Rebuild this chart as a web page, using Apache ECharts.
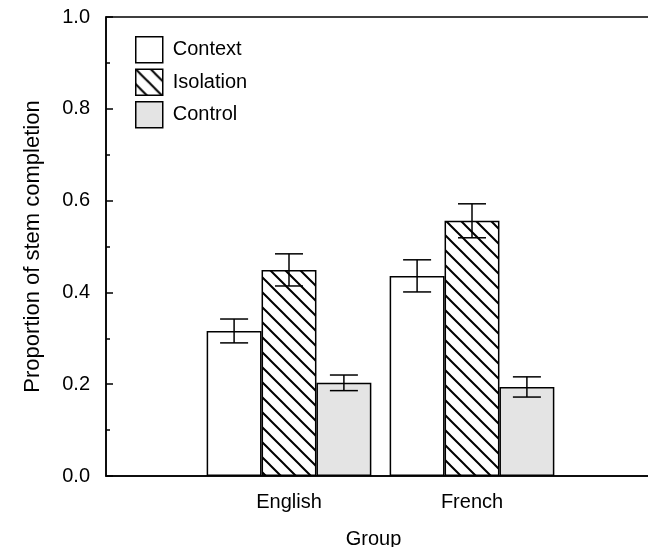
<!DOCTYPE html>
<html>
<head>
<meta charset="utf-8">
<script src="https://cdn.jsdelivr.net/npm/echarts@6/dist/echarts.min.js"></script>
<style>
  html, body { margin: 0; padding: 0; background: #fff; }
  #chart { width: 648px; height: 547px; }
</style>
</head>
<body>
<div id="chart"></div>
<script>
// Datos
const groups = ['English', 'French'];
const seriesNames = ['Context', 'Isolation', 'Control'];
const contextVals = [0.316, 0.436];
const isolationVals = [0.449, 0.556];
const controlVals = [0.203, 0.194];
const contextErr = [0.026, 0.035];
const isolationErr = [0.035, 0.037];
const controlErr = [0.017, 0.022];
const yTicks = [0, 0.2, 0.4, 0.6, 0.8, 1.0];

const values = [contextVals, isolationVals, controlVals];
const errors = [contextErr, isolationErr, controlErr];
const font = 'Liberation Sans, Arial, sans-serif';

// patrón rayado "\" para Isolation
function hatch() {
  const s = 15;
  const c = document.createElement('canvas');
  c.width = s; c.height = s;
  const ctx = c.getContext('2d');
  ctx.fillStyle = '#fff';
  ctx.fillRect(0, 0, s, s);
  ctx.strokeStyle = '#000';
  ctx.lineWidth = 2;
  ctx.beginPath();
  ctx.moveTo(-2, -2); ctx.lineTo(s + 2, s + 2);
  ctx.moveTo(-2, s - 2); ctx.lineTo(2, s + 2);
  ctx.moveTo(s - 2, -2); ctx.lineTo(s + 2, 2);
  ctx.stroke();
  return c;
}

const fills = ['#ffffff', { image: hatch(), repeat: 'repeat' }, '#e4e4e4'];
const barFrac = 0.3;

const series = [];
seriesNames.forEach(function (name, k) {
  series.push({
    name: name,
    type: 'bar',
    barWidth: (barFrac * 100) + '%',
    barGap: '0%',
    itemStyle: { color: fills[k], borderColor: '#000', borderWidth: 1.5 },
    data: groups.map(function (g, i) { return [g, values[k][i]]; })
  });
});
seriesNames.forEach(function (name, k) {
  series.push({
    type: 'custom',
    silent: true,
    z: 5,
    renderItem: function (params, api) {
      const p = api.coord([api.value(0), api.value(1)]);
      const band = api.size([1, 0])[0];
      const x = p[0] + (k - 1) * band * barFrac;
      const hi = api.coord([api.value(0), api.value(1) + api.value(2)])[1];
      const lo = api.coord([api.value(0), api.value(1) - api.value(2)])[1];
      const w = 14;
      const st = { stroke: '#000', lineWidth: 1.5 };
      return {
        type: 'group',
        children: [
          { type: 'line', shape: { x1: x, y1: hi, x2: x, y2: lo }, style: st },
          { type: 'line', shape: { x1: x - w, y1: hi, x2: x + w, y2: hi }, style: st },
          { type: 'line', shape: { x1: x - w, y1: lo, x2: x + w, y2: lo }, style: st }
        ]
      };
    },
    data: groups.map(function (g, i) { return [g, values[k][i], errors[k][i]]; })
  });
});

const chart = echarts.init(document.getElementById('chart'), null, { renderer: 'canvas' });
chart.setOption({
  animation: false,
  backgroundColor: '#fff',
  textStyle: { fontFamily: font },
  grid: {
    left: 106, top: 17, right: -7, bottom: 71,
    outerBoundsMode: 'none',
    containLabel: false,
    show: true, borderColor: '#000', borderWidth: 1.5, backgroundColor: 'transparent'
  },
  legend: {
    data: seriesNames,
    orient: 'vertical',
    left: 135, top: 36,
    padding: 0,
    itemWidth: 27, itemHeight: 26, itemGap: 5,
    icon: 'rect',
    itemStyle: { borderColor: '#000', borderWidth: 1.5 },
    textStyle: { fontFamily: font, fontSize: 20, color: '#000', padding: [0, 0, 0, 5] }
  },
  xAxis: {
    type: 'category',
    data: [''].concat(groups, ['']),
    boundaryGap: false,
    name: 'Group',
    nameLocation: 'middle',
    nameGap: 53,
    nameTextStyle: { fontFamily: font, fontSize: 20, color: '#000', padding: [0, 14, 0, 0] },
    axisLine: { lineStyle: { color: '#000', width: 1.5 } },
    axisTick: { show: false },
    axisLabel: { fontFamily: font, fontSize: 20, color: '#000', margin: 16 },
    splitLine: { show: false }
  },
  yAxis: {
    type: 'value',
    min: yTicks[0], max: yTicks[yTicks.length - 1], interval: 0.2,
    name: 'Proportion of stem completion',
    nameLocation: 'middle',
    nameGap: 62,
    nameTextStyle: { fontFamily: font, fontSize: 22, color: '#000' },
    axisLine: { show: true, lineStyle: { color: '#000', width: 1.5 } },
    axisTick: { show: true, inside: true, length: 7, lineStyle: { color: '#000', width: 1.5 } },
    minorTick: { show: true, splitNumber: 2, length: 4, lineStyle: { color: '#000', width: 1.5 } },
    axisLabel: {
      fontFamily: font, fontSize: 20, color: '#000', margin: 16,
      formatter: function (v) { return v.toFixed(1); }
    },
    splitLine: { show: false }
  },
  series: series
});
</script>
</body>
</html>
